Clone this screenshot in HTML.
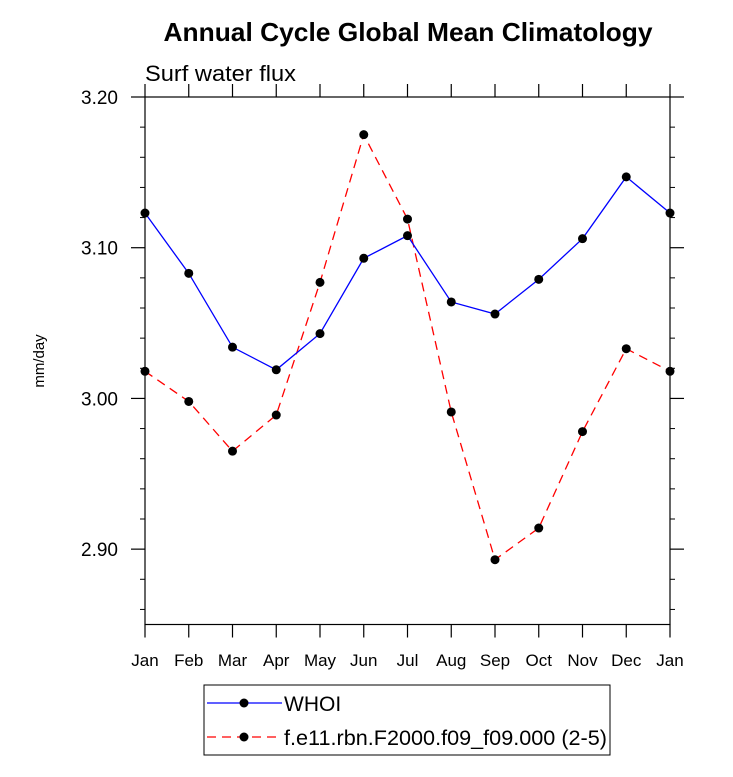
<!DOCTYPE html>
<html><head><meta charset="utf-8"><style>
body{margin:0;background:#fff;}
svg{display:block;font-family:"Liberation Sans",Arial,sans-serif;}
</style></head><body>
<svg id="chart" width="733" height="777" xmlns="http://www.w3.org/2000/svg">
<text x="408" y="41" text-anchor="middle" font-size="26" font-weight="bold" textLength="489" lengthAdjust="spacingAndGlyphs">Annual Cycle Global Mean Climatology</text>
<text x="145" y="81" font-size="22" textLength="151" lengthAdjust="spacingAndGlyphs">Surf water flux</text>
<text transform="translate(44,361) rotate(-90)" text-anchor="middle" font-size="15">mm/day</text>
<g id="axes"></g>
<g id="series"></g>
<rect x="204" y="685" width="406" height="70" fill="none" stroke="#000" stroke-width="1"/>
<g>
<line x1="207" y1="703" x2="282" y2="703" stroke="#0000ff" stroke-width="1.3"/>
<circle cx="244" cy="703" r="4.5" fill="#000"/>
<text x="284" y="711" font-size="21">WHOI</text>
</g>
<g>
<line x1="207" y1="737" x2="282" y2="737" stroke="#ff0000" stroke-width="1.3" stroke-dasharray="9,6"/>
<circle cx="244" cy="737" r="4.5" fill="#000"/>
<text x="284" y="745" font-size="21" textLength="323" lengthAdjust="spacingAndGlyphs">f.e11.rbn.F2000.f09_f09.000 (2-5)</text>
</g>
</svg>
<script>
const months=["Jan","Feb","Mar","Apr","May","Jun","Jul","Aug","Sep","Oct","Nov","Dec","Jan"];
const whoi=[3.123,3.083,3.034,3.019,3.043,3.093,3.108,3.064,3.056,3.079,3.106,3.147,3.123];
const model=[3.018,2.998,2.965,2.989,3.077,3.175,3.119,2.991,2.893,2.914,2.978,3.033,3.018];
const yTicks=[2.90,3.00,3.10,3.20];
const yTickLabels=["2.90","3.00","3.10","3.20"];
const L=145,R=670,T=97,B=624.5,ymin=2.85,ymax=3.20;
const xs=i=>L+(R-L)*i/(months.length-1);
const ys=v=>B-(v-ymin)/(ymax-ymin)*(B-T);
const NS="http://www.w3.org/2000/svg";
function mk(tag,attrs,parent,txt){const e=document.createElementNS(NS,tag);for(const k in attrs)e.setAttribute(k,attrs[k]);if(txt!==undefined)e.textContent=txt;parent.appendChild(e);return e;}
const ax=document.getElementById('axes');
const frame=mk('rect',{x:L,y:T,width:R-L,height:B-T,fill:'none',stroke:'#000','stroke-width':1.2},ax);


for(let v=2.86;v<3.2;v+=0.02){
  const y=ys(v);
  if(Math.abs(Math.round(v*10)/10-v)<1e-6)continue;
  mk('line',{x1:L-5,x2:L,y1:y,y2:y,stroke:'#000'},ax);
  mk('line',{x1:R,x2:R+5,y1:y,y2:y,stroke:'#000'},ax);
}
yTicks.forEach((v,i)=>{
  const y=ys(v);
  mk('line',{x1:L-14,x2:L,y1:y,y2:y,stroke:'#000','stroke-width':1.2},ax);
  mk('line',{x1:R,x2:R+14,y1:y,y2:y,stroke:'#000','stroke-width':1.2},ax);
  const t=mk('text',{x:L-27,y:y+7,'text-anchor':'end','font-size':19},ax,yTickLabels[i]);
  
  
});
months.forEach((m,i)=>{
  const x=xs(i);
  mk('line',{x1:x,x2:x,y1:B,y2:B+13,stroke:'#000','stroke-width':1.2},ax);
  mk('line',{x1:x,x2:x,y1:T-13,y2:T,stroke:'#000','stroke-width':1.2},ax);
  const t=mk('text',{x:x,y:666,'text-anchor':'middle','font-size':17},ax,m);
  
  
});
const sg=document.getElementById('series');
function draw(vals,color,dash,name){
  const g=mk('g',{},sg);
  
  
  const pts=vals.map((v,i)=>xs(i)+','+ys(v)).join(' ');
  const a={points:pts,fill:'none',stroke:color,'stroke-width':1.3};
  if(dash)a['stroke-dasharray']=dash;
  mk('polyline',a,g);
  vals.forEach((v,i)=>{
    const c=mk('circle',{cx:xs(i),cy:ys(v),r:4.5,fill:'#000'},g);
    
    
  });
}
draw(model,'#ff0000','9,6','model-series');
draw(whoi,'#0000ff',null,'whoi-series');
</script>
</body></html>
